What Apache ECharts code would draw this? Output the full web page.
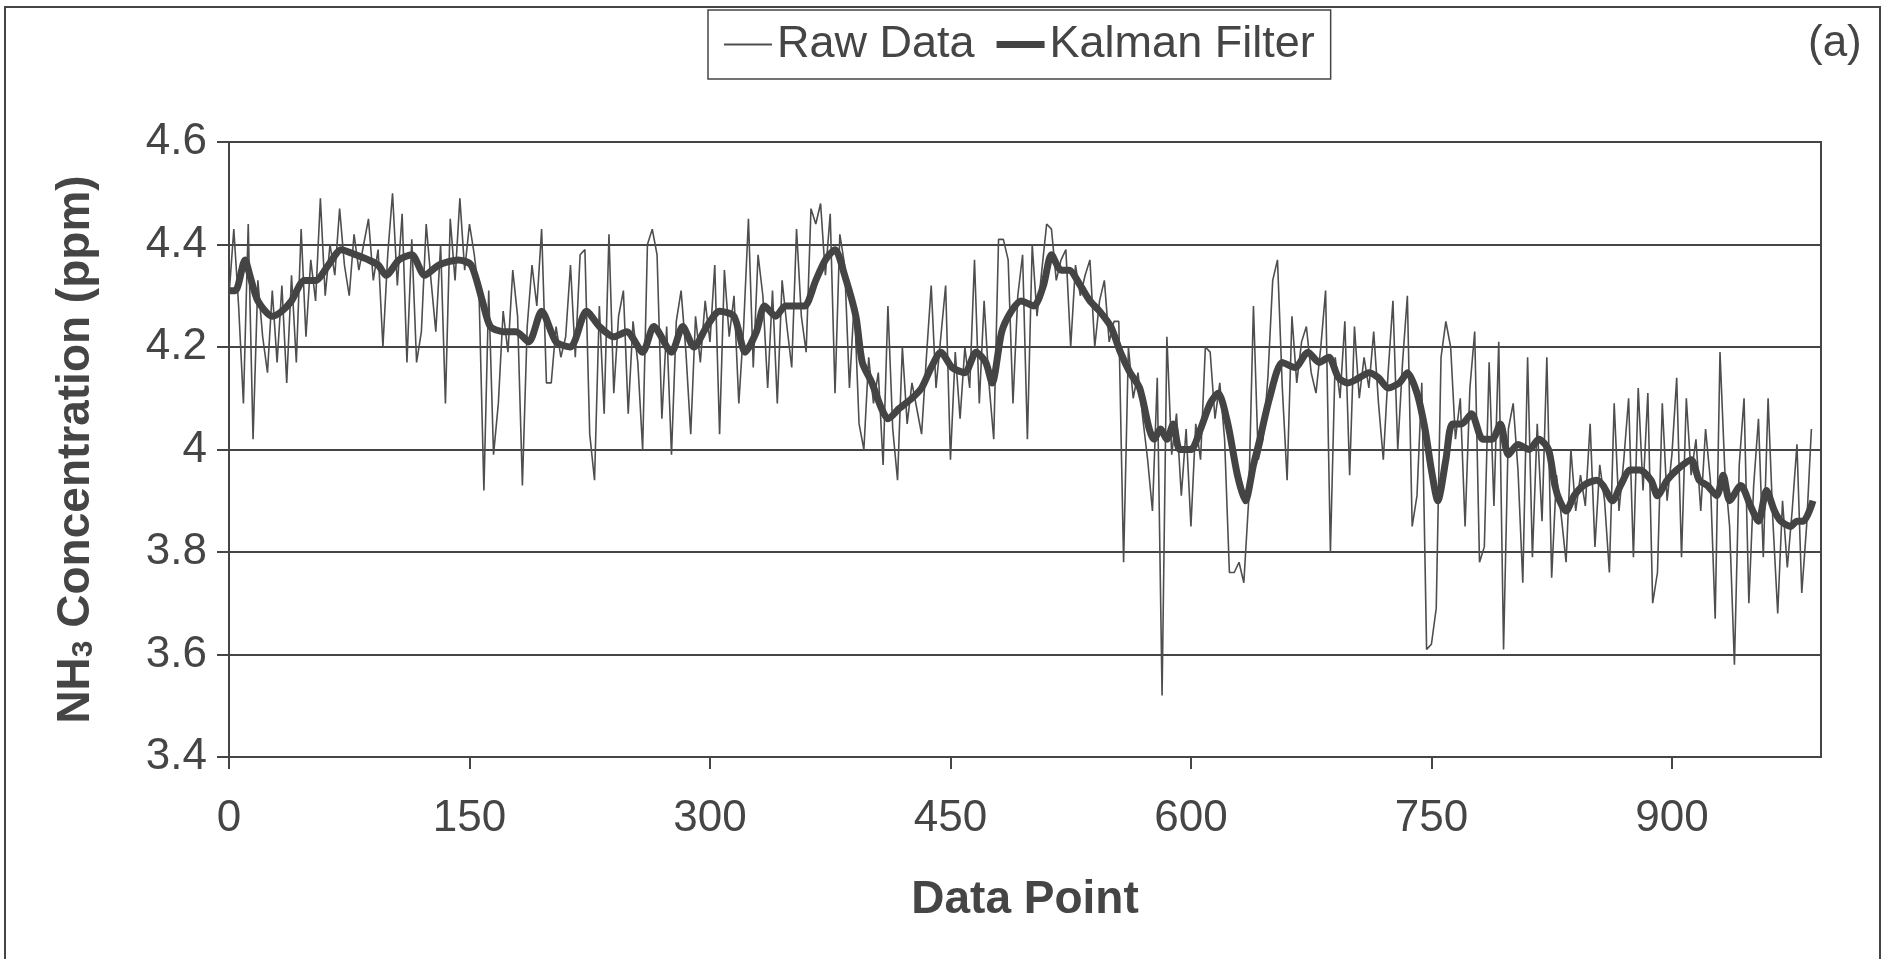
<!DOCTYPE html>
<html>
<head>
<meta charset="utf-8">
<title>NH3 concentration - Kalman filter</title>
<script src="https://cdn.jsdelivr.net/npm/echarts@6/dist/echarts.min.js"></script>
<style>
  html, body { margin: 0; padding: 0; background: #fff; }
  #chart { width: 1889px; height: 959px; }
</style>
</head>
<body>
<div id="chart"></div>
<script>
  // raw readings, one every rawStep data points
  const rawStep = 3;
  const rawValues = [
    4.30,4.43,4.28,4.09,4.44,4.02,4.33,4.22,4.15,4.31,
    4.17,4.32,4.13,4.34,4.17,4.43,4.22,4.37,4.29,4.49,
    4.30,4.40,4.34,4.47,4.36,4.30,4.42,4.35,4.40,4.45,
    4.33,4.39,4.20,4.38,4.50,4.32,4.46,4.17,4.41,4.17,
    4.23,4.44,4.33,4.23,4.40,4.09,4.45,4.33,4.49,4.35,
    4.44,4.38,4.30,3.92,4.31,3.99,4.09,4.27,4.19,4.35,
    4.26,3.93,4.24,4.36,4.28,4.43,4.13,4.13,4.24,4.18,
    4.22,4.36,4.18,4.38,4.39,4.03,3.94,4.28,4.07,4.42,
    4.11,4.26,4.31,4.07,4.25,4.17,4.00,4.40,4.43,4.38,
    4.06,4.24,3.99,4.25,4.31,4.19,4.03,4.26,4.17,4.29,
    4.21,4.36,4.03,4.35,4.22,4.30,4.09,4.24,4.45,4.16,
    4.38,4.30,4.12,4.31,4.09,4.33,4.24,4.16,4.43,4.26,
    4.19,4.47,4.44,4.48,4.34,4.46,4.11,4.42,4.36,4.12,
    4.29,4.05,4.00,4.18,4.09,4.15,3.97,4.28,4.04,3.94,
    4.20,4.05,4.13,4.08,4.03,4.18,4.32,4.12,4.22,4.32,
    3.98,4.19,4.06,4.20,4.12,4.37,4.09,4.29,4.13,4.02,
    4.41,4.41,4.37,4.09,4.30,4.38,4.02,4.40,4.26,4.35,
    4.44,4.43,4.33,4.37,4.39,4.20,4.36,4.30,4.34,4.37,
    4.20,4.29,4.33,4.21,4.25,4.25,3.78,4.20,4.10,4.15,
    4.06,3.98,3.88,4.14,3.52,4.22,3.99,4.07,3.91,4.04,
    3.85,4.05,3.98,4.20,4.19,4.06,4.13,4.02,3.76,3.76,
    3.78,3.74,3.90,4.28,3.98,4.02,4.14,4.33,4.37,4.12,
    3.94,4.26,4.13,4.21,4.24,4.15,4.11,4.20,4.31,3.80,
    4.18,4.10,4.25,3.95,4.24,4.10,4.18,4.12,4.23,4.09,
    3.98,4.15,4.29,4.00,4.17,4.30,3.85,3.91,4.13,3.61,
    3.62,3.69,4.18,4.25,4.20,4.02,4.10,3.85,4.12,4.23,
    3.78,3.81,4.17,3.89,4.21,3.61,4.04,4.09,3.96,3.74,
    4.18,3.79,4.05,3.86,4.18,3.75,3.95,3.87,3.78,4.00,
    3.88,3.95,3.89,4.05,3.81,3.97,3.90,3.76,4.09,3.88,
    3.98,4.10,3.79,4.12,3.92,4.11,3.70,3.76,4.09,3.90,
    3.99,4.14,3.79,4.10,3.95,4.02,3.88,4.04,3.94,3.67,
    4.19,3.96,3.85,3.58,3.97,4.10,3.70,3.93,4.06,3.79,
    4.10,3.86,3.68,3.90,3.77,3.88,4.01,3.72,3.85,4.04
  ];

  // [data point, filtered value]
  const kalmanPoints = [
    [0,4.31],[4,4.31],[10,4.37],[13,4.34],[18,4.29],[27,4.26],[33,4.27],[39,4.29],
    [47,4.33],[54,4.33],[62,4.36],[70,4.39],[79,4.38],[87,4.37],[93,4.36],[98,4.34],
    [106,4.37],[114,4.38],[122,4.34],[131,4.36],[143,4.37],[151,4.36],[158,4.29],[163,4.24],
    [171,4.23],[179,4.23],[187,4.21],[195,4.27],[204,4.21],[213,4.20],[223,4.27],[231,4.24],
    [240,4.22],[248,4.23],[258,4.19],[265,4.24],[276,4.19],[283,4.24],[290,4.20],[298,4.24],
    [306,4.27],[315,4.26],[322,4.19],[329,4.23],[334,4.28],[341,4.26],[347,4.28],[353,4.28],
    [359,4.28],[366,4.33],[372,4.37],[378,4.39],[384,4.34],[391,4.26],[395,4.17],[401,4.13],
    [407,4.08],[411,4.06],[418,4.08],[426,4.10],[432,4.12],[438,4.16],[444,4.19],[451,4.16],
    [459,4.15],[466,4.19],[472,4.17],[476,4.13],[482,4.23],[488,4.27],[494,4.29],[502,4.28],
    [508,4.32],[513,4.38],[519,4.35],[524,4.35],[531,4.32],[537,4.29],[543,4.27],[550,4.24],
    [556,4.19],[562,4.15],[568,4.12],[574,4.04],[577,4.02],[581,4.04],[585,4.02],[589,4.05],
    [593,4.00],[600,4.00],[606,4.04],[612,4.09],[617,4.11],[623,4.05],[629,3.95],[634,3.90],
    [639,3.97],[643,4.02],[649,4.10],[657,4.17],[665,4.16],[673,4.19],[680,4.17],[686,4.18],
    [692,4.14],[698,4.13],[705,4.14],[711,4.15],[717,4.14],[723,4.12],[730,4.13],[735,4.15],
    [741,4.11],[746,4.04],[750,3.96],[754,3.90],[759,3.98],[763,4.05],[769,4.05],[775,4.07],
    [782,4.02],[788,4.02],[793,4.05],[798,3.99],[804,4.01],[811,4.00],[817,4.02],[823,4.00],
    [827,3.93],[830,3.90],[834,3.88],[839,3.91],[845,3.93],[853,3.94],[857,3.93],[863,3.90],
    [868,3.93],[874,3.96],[880,3.96],[887,3.94],[891,3.91],[897,3.94],[903,3.96],[912,3.98],
    [917,3.94],[922,3.93],[928,3.91],[932,3.95],[936,3.90],[943,3.93],[949,3.89],[954,3.86],
    [959,3.92],[964,3.88],[968,3.86],[974,3.85],[978,3.86],[982,3.86],[988,3.90]
  ];

  const xTicks = [0, 150, 300, 450, 600, 750, 900];
  const yTicks = [3.4, 3.6, 3.8, 4, 4.2, 4.4, 4.6];

  const ink = '#454545';
  const font = 'Liberation Sans';

  const rawData = rawValues.map((v, k) => [k * rawStep, v]);

  const chart = echarts.init(document.getElementById('chart'), null, {renderer: 'canvas'});

  chart.setOption({
    backgroundColor: '#fff',
    animation: false,
    textStyle: {fontFamily: font, color: ink},
    grid: {
      left: 229, right: 68, top: 142, bottom: 202,
      show: true, borderColor: ink, borderWidth: 2
    },
    legend: {
      data: [
        {name: 'Raw Data', icon: 'path://M0,0L48,0L48,2L0,2Z'},
        {name: 'Kalman Filter', icon: 'path://M0,0L48,0L48,7L0,7Z'}
      ],
      left: 708, top: 10,
      padding: [12, 16],
      itemWidth: 48, itemHeight: 14, itemGap: 22,
      borderColor: ink, borderWidth: 1.5, borderRadius: 0,
      textStyle: {fontSize: 45, color: ink, fontFamily: font}
    },
    xAxis: {
      type: 'value',
      min: 0, max: 993, interval: 150,
      name: 'Data Point',
      nameLocation: 'middle',
      nameGap: 120,
      nameTextStyle: {fontSize: 46, fontWeight: 'bold', color: ink, fontFamily: font},
      axisLine: {lineStyle: {color: ink, width: 2}},
      axisTick: {show: true, length: 12, lineStyle: {color: ink, width: 2},
        customValues: xTicks},
      axisLabel: {fontSize: 44, color: ink, margin: 40, customValues: xTicks},
      splitLine: {show: false}
    },
    yAxis: {
      type: 'value',
      min: 3.4, max: 4.6, interval: 0.2,
      name: '{b|NH}{s|3}{b| Concentration (ppm)}',
      nameLocation: 'middle',
      nameGap: 130,
      nameTextStyle: {
        rich: {
          b: {fontSize: 46, fontWeight: 'bold', color: ink, fontFamily: font},
          s: {fontSize: 30, fontWeight: 'bold', color: ink, fontFamily: font, verticalAlign: 'bottom'}
        }
      },
      axisLine: {show: true, lineStyle: {color: ink, width: 2}},
      axisTick: {show: true, length: 12, lineStyle: {color: ink, width: 2},
        customValues: yTicks},
      axisLabel: {fontSize: 44, color: ink, margin: 22,
        customValues: yTicks,
        formatter: v => String(+v.toFixed(1))},
      splitLine: {show: true, lineStyle: {color: ink, width: 2}}
    },
    series: [
      {
        name: 'Raw Data',
        type: 'line',
        data: rawData,
        symbol: 'none',
        lineStyle: {color: '#4e4e4e', width: 1.6},
        itemStyle: {color: '#4e4e4e'},
        z: 2
      },
      {
        name: 'Kalman Filter',
        type: 'line',
        data: kalmanPoints,
        symbol: 'none',
        smooth: 0.25,
        lineStyle: {color: '#444', width: 7},
        itemStyle: {color: '#444'},
        z: 3
      }
    ],
    graphic: [
      {
        type: 'rect',
        shape: {x: 5, y: 7, width: 1875, height: 1000},
        style: {fill: 'none', stroke: ink, lineWidth: 2},
        silent: true
      },
      {
        type: 'text',
        x: 1808, y: 22,
        style: {text: '(a)', font: '44px "Liberation Sans"', fill: ink}
      }
    ]
  });
</script>
</body>
</html>
